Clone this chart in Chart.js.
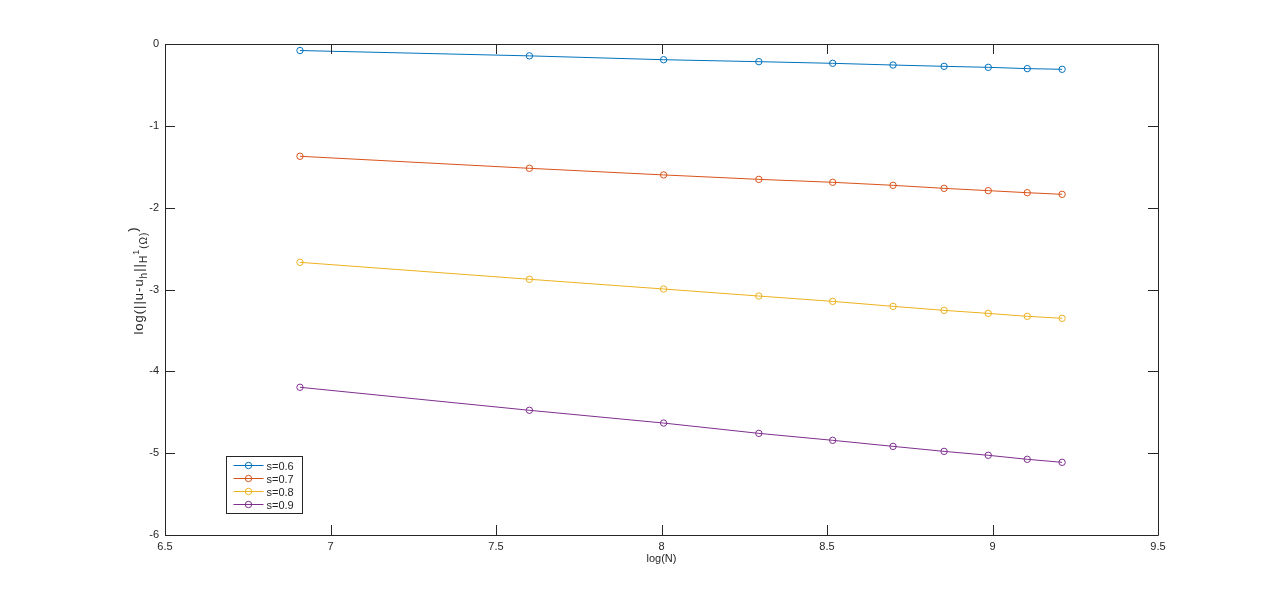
<!DOCTYPE html>
<html>
<head>
<meta charset="utf-8">
<script src="https://cdn.jsdelivr.net/npm/chart.js@4/dist/chart.umd.min.js"></script>
<style>
  html, body { margin:0; padding:0; background:#fff; }
  #wrap { width:1280px; height:601px; }
</style>
</head>
<body>
<div id="wrap"><canvas id="chart" width="1280" height="601"></canvas></div>
<script>
// log(N) for N = 1000 ... 10000
const logN = [6.9078, 7.6009, 8.0064, 8.2940, 8.5172, 8.6995, 8.8537, 8.9872, 9.1050, 9.2103];

const s06 = [-0.080, -0.145, -0.192, -0.216, -0.236, -0.257, -0.273, -0.285, -0.301, -0.309];
const s07 = [-1.372, -1.519, -1.600, -1.654, -1.690, -1.727, -1.764, -1.792, -1.817, -1.837];
const s08 = [-2.668, -2.875, -2.994, -3.080, -3.145, -3.206, -3.255, -3.292, -3.328, -3.352];
const s09 = [-4.195, -4.476, -4.632, -4.758, -4.843, -4.917, -4.978, -5.026, -5.075, -5.112];

const seriesNames = ['s=0.6', 's=0.7', 's=0.8', 's=0.9'];
const seriesVals = [s06, s07, s08, s09];
const colors = ['#0072BD', '#D95319', '#EDB120', '#7E2F8E'];

const xTicks = [6.5, 7, 7.5, 8, 8.5, 9, 9.5];
const yTicks = [0, -1, -2, -3, -4, -5, -6];

const FONT = 'Liberation Sans, Arial, Helvetica, sans-serif';
const AXIS = '#262626';

const datasets = seriesVals.map((vals, i) => ({
  label: seriesNames[i],
  data: vals.map((y, k) => ({ x: logN[k], y })),
  showLine: true,
  borderColor: colors[i],
  backgroundColor: 'rgba(0,0,0,0)',
  borderWidth: 1,
  pointRadius: 3.2,
  pointBorderWidth: 1,
  pointBorderColor: colors[i],
  pointBackgroundColor: 'rgba(0,0,0,0)',
  tension: 0
}));

// box, inward ticks, axis labels and legend in MATLAB style
const matlabFrame = {
  id: 'matlabFrame',
  afterDatasetsDraw(chart){
    const { ctx, chartArea: a, scales: { x, y } } = chart;
    const tl = 10;
    ctx.save();
    ctx.strokeStyle = AXIS;
    ctx.lineWidth = 1;
    ctx.beginPath();
    ctx.rect(Math.round(a.left) + 0.5, Math.round(a.top) + 0.5, Math.round(a.right - a.left), Math.round(a.bottom - a.top));
    for (const v of xTicks){
      const px = Math.round(x.getPixelForValue(v)) + 0.5;
      ctx.moveTo(px, a.bottom); ctx.lineTo(px, a.bottom - tl);
      ctx.moveTo(px, a.top); ctx.lineTo(px, a.top + tl);
    }
    for (const v of yTicks){
      const py = Math.round(y.getPixelForValue(v)) + 0.5;
      ctx.moveTo(a.left, py); ctx.lineTo(a.left + tl, py);
      ctx.moveTo(a.right, py); ctx.lineTo(a.right - tl, py);
    }
    ctx.stroke();

    // x title
    ctx.fillStyle = AXIS;
    ctx.font = '11px ' + FONT;
    ctx.textAlign = 'center';
    ctx.textBaseline = 'middle';
    ctx.fillText('log(N)', (a.left + a.right) / 2, a.bottom + 24);

    // y title with sub/superscripts, rotated
    const parts = [
      { t: 'log(||u-u', dy: 0, f: 13 },
      { t: 'h', dy: 5, f: 10 },
      { t: '||', dy: 0, f: 13 },
      { t: 'H', dy: 5, f: 10 },
      { t: '1', dy: -2, f: 9 },
      { t: '(Ω)', dy: 5, f: 10 },
      { t: ')', dy: -6, f: 13 }
    ];
    ctx.letterSpacing = '1px';
    let total = 0;
    for (const p of parts){ ctx.font = p.f + 'px ' + FONT; p.w = ctx.measureText(p.t).width; total += p.w; }
    ctx.translate(a.left - 26, (a.top + a.bottom) / 2 - 9);
    ctx.rotate(-Math.PI / 2);
    ctx.textAlign = 'left';
    let cx = -total / 2;
    for (const p of parts){
      ctx.font = p.f + 'px ' + FONT;
      ctx.fillText(p.t, cx, p.dy);
      cx += p.w;
    }
    ctx.restore();

    // legend box, lower left
    ctx.save();
    const lx = Math.round(a.left + 61) + 0.5, ly = Math.round(a.bottom - 79) + 0.5;
    const lw = 76, lh = 57;
    ctx.fillStyle = '#fff';
    ctx.fillRect(lx, ly, lw, lh);
    ctx.strokeStyle = AXIS;
    ctx.lineWidth = 1;
    ctx.strokeRect(lx, ly, lw, lh);
    ctx.font = '11px ' + FONT;
    ctx.textBaseline = 'middle';
    ctx.textAlign = 'left';
    seriesNames.forEach((name, i) => {
      const yy = ly + 9 + i * 13;
      ctx.strokeStyle = colors[i];
      ctx.beginPath();
      ctx.moveTo(lx + 7, yy); ctx.lineTo(lx + 37, yy);
      ctx.stroke();
      ctx.beginPath();
      ctx.arc(lx + 22, yy, 3.2, 0, Math.PI * 2);
      ctx.stroke();
      ctx.fillStyle = AXIS;
      ctx.fillText(name, lx + 40, yy + 1);
    });
    ctx.restore();
  }
};

new Chart(document.getElementById('chart'), {
  type: 'scatter',
  data: { datasets },
  plugins: [matlabFrame],
  options: {
    responsive: false,
    animation: false,
    layout: { padding: { left: 0, right: 122, top: 44, bottom: 0 } },
    plugins: { legend: { display: false }, tooltip: { enabled: false } },
    scales: {
      x: {
        type: 'linear', min: 6.5, max: 9.5,
        afterFit: s => { s.height = 66; },
        afterBuildTicks: s => { s.ticks = xTicks.map(v => ({ value: v })); },
        grid: { display: false, drawTicks: false },
        border: { display: false },
        ticks: { color: AXIS, font: { family: FONT, size: 11 }, padding: 5, maxRotation: 0,
                 callback: v => String(v) }
      },
      y: {
        type: 'linear', min: -6, max: 0,
        afterFit: s => { s.width = 165; },
        afterBuildTicks: s => { s.ticks = yTicks.map(v => ({ value: v })); },
        grid: { display: false, drawTicks: false },
        border: { display: false },
        ticks: { color: AXIS, font: { family: FONT, size: 11 }, padding: 6,
                 callback: v => String(v) }
      }
    }
  }
});
</script>
</body>
</html>
